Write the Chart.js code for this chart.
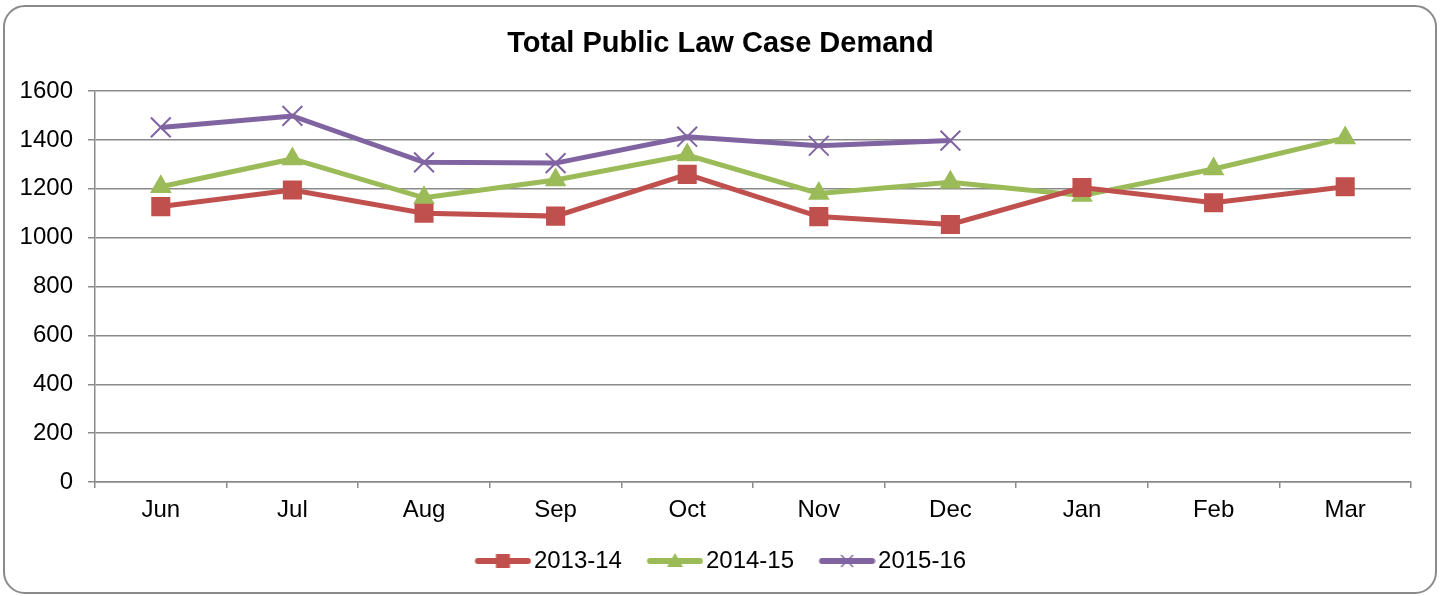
<!DOCTYPE html>
<html>
<head>
<meta charset="utf-8">
<script src="https://cdn.jsdelivr.net/npm/chart.js@4/dist/chart.umd.min.js"></script>
<style>
  html, body { margin: 0; padding: 0; background: #fff; }
  #wrap { position: relative; width: 1441px; height: 596px; }
  #frame {
    position: absolute; left: 3px; top: 5px; width: 1430px; height: 585px;
    border: 2px solid #8a8a8a; border-radius: 22px; pointer-events: none;
  }
</style>
</head>
<body>
<div id="wrap">
  <canvas id="demandChart" width="1441" height="596"></canvas>
  <div id="frame"></div>
</div>
<script>
// chart data
const months = ['Jun', 'Jul', 'Aug', 'Sep', 'Oct', 'Nov', 'Dec', 'Jan', 'Feb', 'Mar'];
const demand1314 = [1127, 1195, 1100, 1088, 1259, 1086, 1054, 1205, 1143, 1208];
const demand1415 = [1208, 1322, 1163, 1236, 1338, 1181, 1227, 1172, 1281, 1408];
const demand1516 = [1451, 1498, 1308, 1305, 1413, 1376, 1397, null, null, null];
const yTicks = [0, 200, 400, 600, 800, 1000, 1200, 1400, 1600];

const RED = '#C0504D';
const GREEN = '#9BBB59';
const PURPLE = '#8064A2';
const GRID = '#8a8a8a';
const FONT = '"Liberation Sans", Arial, sans-serif';

// legend sample: short line with the marker in the middle
// (canvas is wider on the left so the sample sits right next to the text)
function legendSample(color, marker) {
    const c = document.createElement('canvas');
    c.width = 66; c.height = 24;
    const ctx = c.getContext('2d');
    const cx = 37.5, cy = 12;
    ctx.strokeStyle = color;
    ctx.fillStyle = color;
    ctx.lineWidth = 6;
    ctx.lineCap = 'round';
    ctx.beginPath();
    ctx.moveTo(12.5, cy);
    ctx.lineTo(62.5, cy);
    ctx.stroke();
    if (marker === 'rect') {
        ctx.fillRect(cx - 7, cy - 7, 14, 14);
    } else if (marker === 'triangle') {
        ctx.beginPath();
        ctx.moveTo(cx, cy - 8);
        ctx.lineTo(cx + 8, cy + 6);
        ctx.lineTo(cx - 8, cy + 6);
        ctx.closePath();
        ctx.fill();
    } else {
        ctx.lineWidth = 1.5;
        ctx.lineCap = 'butt';
        ctx.beginPath();
        ctx.moveTo(cx - 6, cy - 6); ctx.lineTo(cx + 6, cy + 6);
        ctx.moveTo(cx + 6, cy - 6); ctx.lineTo(cx - 6, cy + 6);
        ctx.stroke();
    }
    return c;
}

const samples = [
    legendSample(RED, 'rect'),
    legendSample(GREEN, 'triangle'),
    legendSample(PURPLE, 'cross')
];

const ctx = document.getElementById('demandChart').getContext('2d');
new Chart(ctx, {
    type: 'line',
    data: {
        labels: months,
        datasets: [
            {
                label: '2013-14',
                data: demand1314,
                borderColor: RED,
                backgroundColor: RED,
                borderWidth: 5,
                pointStyle: 'rect',
                pointRadius: 13.5,
                pointBorderWidth: 0,
                pointBackgroundColor: RED
            },
            {
                label: '2014-15',
                data: demand1415,
                borderColor: GREEN,
                backgroundColor: GREEN,
                borderWidth: 5,
                pointStyle: 'triangle',
                pointRadius: 12.5,
                pointBorderWidth: 0,
                pointBackgroundColor: GREEN
            },
            {
                label: '2015-16',
                data: demand1516,
                borderColor: PURPLE,
                backgroundColor: PURPLE,
                borderWidth: 5,
                pointStyle: 'crossRot',
                pointRadius: 14,
                pointBorderWidth: 2,
                pointBorderColor: PURPLE
            }
        ]
    },
    options: {
        responsive: false,
        animation: false,
        layout: { padding: { top: 10, left: 0, right: 0, bottom: 13 } },
        plugins: {
            tooltip: { enabled: false },
            title: {
                display: true,
                text: 'Total Public Law Case Demand',
                color: '#000',
                font: { family: FONT, size: 29, weight: 'bold' },
                padding: { top: 16.6, bottom: 29.6 }
            },
            legend: {
                position: 'bottom',
                labels: {
                    color: '#000',
                    font: { family: FONT, size: 24 },
                    usePointStyle: true,
                    pointStyleWidth: 47,
                    padding: 25,
                    generateLabels: chart => Chart.defaults.plugins.legend.labels.generateLabels(chart)
                        .map((item, i) => Object.assign(item, { pointStyle: samples[i] }))
                }
            }
        },
        scales: {
            x: {
                offset: true,
                grid: {
                    offset: true,
                    drawOnChartArea: false,
                    color: GRID,
                    lineWidth: 1.5,
                    tickLength: 6
                },
                border: { color: GRID, width: 1.5 },
                ticks: {
                    color: '#000',
                    font: { family: FONT, size: 24 },
                    padding: 8,
                    maxRotation: 0
                },
                afterFit: scale => { scale.height = 42; }
            },
            y: {
                min: 0,
                max: 1600,
                afterBuildTicks: scale => { scale.ticks = yTicks.map(v => ({ value: v })); },
                grid: {
                    color: GRID,
                    lineWidth: 1.5,
                    tickLength: 7
                },
                border: { color: GRID, width: 1.5 },
                ticks: {
                    color: '#000',
                    font: { family: FONT, size: 24 },
                    padding: 15,
                    callback: v => String(v)
                },
                afterFit: scale => { scale.width = 95; }
            },
            // empty right-hand spacer so title and legend stay centred on the canvas
            yRight: {
                position: 'right',
                min: 0,
                max: 1600,
                grid: { display: false },
                border: { display: false },
                ticks: { display: false },
                afterFit: scale => { scale.width = 30; }
            }
        }
    }
});
</script>
</body>
</html>
